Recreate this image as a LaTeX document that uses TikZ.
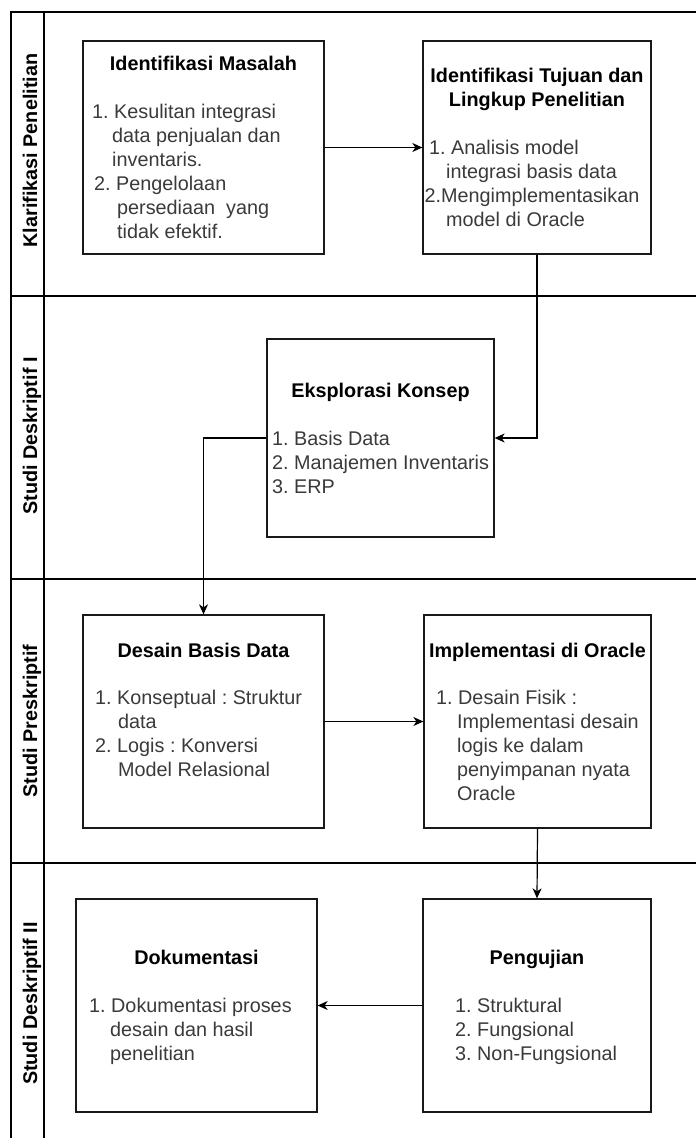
\documentclass[tikz,border=0pt]{standalone}
\usepackage{fontspec}
\setmainfont{Liberation Sans}
\usetikzlibrary{arrows.meta}
\definecolor{bodytxt}{HTML}{3A3A3A}
\frenchspacing
\tikzset{
  frameline/.style={draw=black, line width=1.3pt},
  stepbox/.style={draw=black!90, line width=1.3pt, rectangle, inner sep=0pt, fill=white},
  ttl/.style={font=\fontsize{19.8}{24}\selectfont\bfseries, text=black, inner sep=0pt, anchor=base},
  txt/.style={font=\fontsize{19.8}{24}\selectfont, text=bodytxt, inner sep=0pt, anchor=base west},
  lanelbl/.style={font=\fontsize{19.8}{24}\selectfont\bfseries, text=black, inner sep=0pt, anchor=base, rotate=90},
  conn/.style={draw=black, line width=1.2pt, -{Stealth[length=10pt,width=9pt,inset=3pt]}}
}
\begin{document}
\begin{tikzpicture}[x=1pt,y=-1pt]
\useasboundingbox (0,0) rectangle (696,1138);
% pool frame
\draw[frameline] (11,1138) -- (11,12) -- (696,12);
\draw[frameline] (44,12) -- (44,1138);
\draw[frameline] (11,296) -- (696,296);
\draw[frameline] (11,579) -- (696,579);
\draw[frameline] (11,863) -- (696,863);
% lane labels
\node[lanelbl] (l1) at (37,150.5) {Klarifikasi Penelitian};
\node[lanelbl] (l2) at (37,436) {Studi Deskriptif I};
\node[lanelbl] (l3) at (37,721) {Studi Preskriptif};
\node[lanelbl] (l4) at (37,1003.5) {Studi Deskriptif II};
% boxes
\node[stepbox, minimum width=241pt, minimum height=213pt] (im) at (203.5,147.5) {};
\node[stepbox, minimum width=228pt, minimum height=213pt] (it) at (537,147.5) {};
\node[stepbox, minimum width=227pt, minimum height=198pt] (ek) at (380.5,438) {};
\node[stepbox, minimum width=241pt, minimum height=213pt] (db) at (203.5,721.5) {};
\node[stepbox, minimum width=227pt, minimum height=213pt] (io) at (537.5,721.5) {};
\node[stepbox, minimum width=241pt, minimum height=213pt] (dk) at (196.5,1005.5) {};
\node[stepbox, minimum width=228pt, minimum height=213pt] (pg) at (537,1005.5) {};
% connectors
\draw[conn] (im.east) -- (it.west);
\draw[conn] (it.south) |- (ek.east);
\draw[conn] (ek.west) -| (db.north);
\draw[conn] (db.east) -- (io.west);
\draw[conn] (io.south) -- (pg.north);
\draw[conn] (pg.west) -- (dk.east);
% Identifikasi Masalah
\node[ttl] (imt) at (203.5,70.5) {Identifikasi Masalah};
\node[txt] (im1) at (92,118.5) {1. Kesulitan integrasi};
\node[txt] (im2) at (112,142.5) {data penjualan dan};
\node[txt] (im3) at (112,166.5) {inventaris.};
\node[txt] (im4) at (94,190.5) {2. Pengelolaan};
\node[txt] (im5) at (117,214.5) {persediaan\ \ yang};
\node[txt] (im6) at (117,238.5) {tidak efektif.};
% Identifikasi Tujuan
\node[ttl] (itt1) at (537,82.5) {Identifikasi Tujuan dan};
\node[ttl] (itt2) at (537,106.5) {Lingkup Penelitian};
\node[txt] (it1) at (429,154.5) {1. Analisis model};
\node[txt] (it2) at (446,178.5) {integrasi basis data};
\node[txt] (it3) at (424.5,202.5) {2.Mengimplementasikan};
\node[txt] (it4) at (446,226.5) {model di Oracle};
% Eksplorasi Konsep
\node[ttl] (ekt) at (380.5,397) {Eksplorasi Konsep};
\node[txt] (ek1) at (272,445) {1. Basis Data};
\node[txt] (ek2) at (272,469) {2. Manajemen Inventaris};
\node[txt] (ek3) at (272,493) {3. ERP};
% Desain Basis Data
\node[ttl] (dbt) at (203.5,657) {Desain Basis Data};
\node[txt] (db1) at (95,704.5) {1. Konseptual : Struktur};
\node[txt] (db2) at (118,728.5) {data};
\node[txt] (db3) at (95,752.5) {2. Logis : Konversi};
\node[txt] (db4) at (118,776.5) {Model Relasional};
% Implementasi di Oracle
\node[ttl] (iot) at (537.5,657) {Implementasi di Oracle};
\node[txt] (io1) at (436,704.5) {1. Desain Fisik :};
\node[txt] (io2) at (457,728.5) {Implementasi desain};
\node[txt] (io3) at (457,752.5) {logis ke dalam};
\node[txt] (io4) at (457,776.5) {penyimpanan nyata};
\node[txt] (io5) at (457,800.5) {Oracle};
% Dokumentasi
\node[ttl] (dkt) at (196.5,964.5) {Dokumentasi};
\node[txt] (dk1) at (89,1012.5) {1. Dokumentasi proses};
\node[txt] (dk2) at (110,1036.5) {desain dan hasil};
\node[txt] (dk3) at (110,1060.5) {penelitian};
% Pengujian
\node[ttl] (pgt) at (537,964.5) {Pengujian};
\node[txt] (pg1) at (455,1012.5) {1. Struktural};
\node[txt] (pg2) at (455,1036.5) {2. Fungsional};
\node[txt] (pg3) at (455,1060.5) {3. Non-Fungsional};
\end{tikzpicture}
\end{document}
